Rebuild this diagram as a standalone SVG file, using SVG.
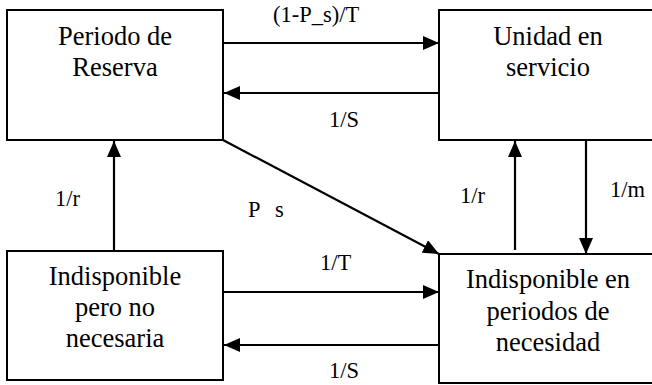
<svg xmlns="http://www.w3.org/2000/svg" width="652" height="385" viewBox="0 0 652 385">
<defs>
<marker id="ah" viewBox="0 0 16 14" refX="16" refY="7" markerWidth="16" markerHeight="14" markerUnits="userSpaceOnUse" orient="auto">
<path d="M0,0 L16,7 L0,14 Z" fill="#000"/>
</marker>
<style>
.box{fill:#fff;stroke:#000;stroke-width:2}
.nt{font-size:26.5px;text-anchor:middle;fill:#000}
.lb{font-size:22.5px;fill:#000}
.cn{stroke:#000;stroke-width:2.2;fill:none;marker-end:url(#ah)}
</style>
</defs>
<rect width="652" height="385" fill="#fff"/>
<g font-family="Liberation Serif, Times New Roman, DejaVu Serif, serif">
<g id="n1"><rect class="box" x="7" y="10" width="216" height="130"/>
<text class="nt" x="115" y="45">Periodo de</text><text class="nt" x="115" y="76">Reserva</text></g>
<g id="n2"><rect class="box" x="439" y="10" width="218" height="130"/>
<text class="nt" x="548" y="45">Unidad en</text><text class="nt" x="548" y="76">servicio</text></g>
<g id="n3"><rect class="box" x="7" y="251" width="216" height="129"/>
<text class="nt" x="115" y="285">Indisponible</text><text class="nt" x="115" y="316">pero no</text><text class="nt" x="115" y="347">necesaria</text></g>
<g id="n4"><rect class="box" x="439" y="254" width="218" height="129"/>
<text class="nt" x="548" y="288">Indisponible en</text><text class="nt" x="548" y="320">periodos de</text><text class="nt" x="548" y="351">necesidad</text></g>
<g id="connectors">
<line class="cn" x1="224" y1="43" x2="439" y2="43"/>
<line class="cn" x1="439" y1="93" x2="224" y2="93"/>
<line class="cn" x1="114" y1="251" x2="114" y2="141"/>
<line class="cn" x1="223" y1="140" x2="439" y2="254"/>
<line class="cn" x1="224" y1="292" x2="439" y2="292"/>
<line class="cn" x1="439" y1="345" x2="224" y2="345"/>
<line class="cn" x1="515" y1="250" x2="515" y2="141"/>
<line class="cn" x1="586" y1="140" x2="586" y2="254"/>
</g>
<g id="labels">
<text class="lb" x="273" y="22">(1-P_s)/T</text>
<text class="lb" x="329" y="127">1/S</text>
<text class="lb" x="55" y="206">1/r</text>
<text class="lb" x="248" y="217">P</text>
<text class="lb" x="275" y="217">s</text>
<text class="lb" x="320" y="270">1/T</text>
<text class="lb" x="329" y="378">1/S</text>
<text class="lb" x="460" y="203">1/r</text>
<text class="lb" x="610" y="197">1/m</text>
</g>
</g>
</svg>
